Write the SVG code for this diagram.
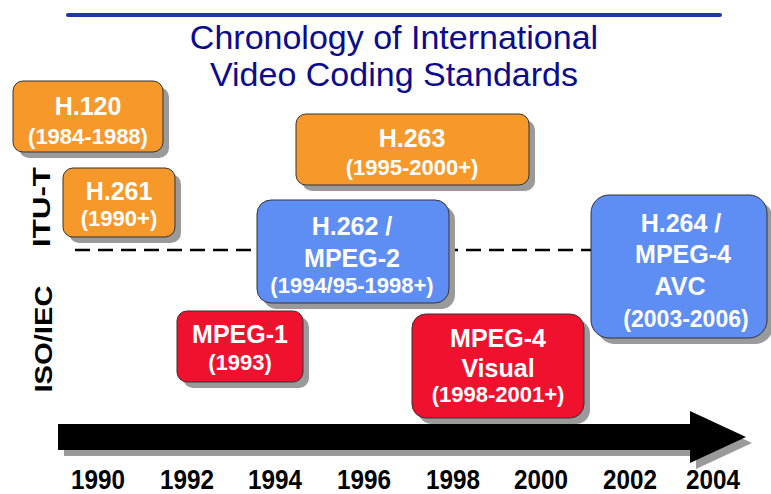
<svg xmlns="http://www.w3.org/2000/svg" width="771" height="494" viewBox="0 0 771 494">
<defs>
<style>
.sh{fill:#9a9a9a}
.box{stroke:#333;stroke-width:1}
.or{fill:#F7982B}
.bl{fill:#5E8EF4}
.rd{fill:#F0112F}
.t{font-family:"Liberation Sans",Arial,sans-serif;font-weight:bold;fill:#fff;text-anchor:middle}
.m{font-size:25px}
.y{font-size:22px}
.lab{font-family:"Liberation Sans",Arial,sans-serif;font-weight:bold;fill:#000;text-anchor:middle}
.yr{font-size:27px}
.title{font-family:"Liberation Sans",Arial,sans-serif;font-size:34px;fill:#0B0B8C;text-anchor:middle}
</style>
</defs>
<rect width="771" height="494" fill="#fff"/>
<line x1="68" y1="15" x2="720" y2="15" stroke="#1E3A9A" stroke-width="4" stroke-linecap="round"/>
<text class="title" x="394" y="49">Chronology of International</text>
<text class="title" x="394" y="86">Video Coding Standards</text>

<g id="labels">
<text class="lab" font-size="24" transform="translate(50,207) rotate(-90)" textLength="80" lengthAdjust="spacingAndGlyphs">ITU-T</text>
<text class="lab" font-size="24" transform="translate(52,339) rotate(-90)" textLength="107" lengthAdjust="spacingAndGlyphs">ISO/IEC</text>
</g>

<g id="connectors">
<line x1="75" y1="250" x2="592" y2="250" stroke="#000" stroke-width="2.5" stroke-dasharray="15 8"/>
</g>

<g id="h120">
<rect class="sh" x="19" y="87" width="150" height="71" rx="10"/>
<rect class="box or" x="13" y="81" width="150" height="71" rx="10"/>
<text class="t m" x="88" y="115">H.120</text>
<text class="t y" x="88" y="144">(1984-1988)</text>
</g>
<g id="h261">
<rect class="sh" x="69" y="174" width="112" height="69" rx="10"/>
<rect class="box or" x="63" y="168" width="112" height="69" rx="10"/>
<text class="t m" x="119" y="200">H.261</text>
<text class="t y" x="119" y="226">(1990+)</text>
</g>
<g id="h263">
<rect class="sh" x="302" y="120" width="233" height="71" rx="10"/>
<rect class="box or" x="296" y="114" width="233" height="71" rx="10"/>
<text class="t m" x="412" y="147">H.263</text>
<text class="t y" x="412" y="175">(1995-2000+)</text>
</g>
<g id="h262">
<rect class="sh" x="263" y="206" width="192" height="103" rx="14"/>
<rect class="box bl" x="257" y="200" width="192" height="103" rx="14"/>
<text class="t m" x="352" y="235">H.262 /</text>
<text class="t m" x="352" y="267">MPEG-2</text>
<text class="t y" x="352" y="293">(1994/95-1998+)</text>
</g>
<g id="h264">
<rect class="sh" x="597" y="201" width="176" height="143" rx="18"/>
<rect class="box bl" x="591" y="195" width="176" height="143" rx="18"/>
<text class="t m" x="681" y="232">H.264 /</text>
<text class="t m" x="683" y="263">MPEG-4</text>
<text class="t m" x="680" y="295">AVC</text>
<text class="t" font-size="23" x="686" y="327">(2003-2006)</text>
</g>
<g id="mpeg1">
<rect class="sh" x="183" y="317" width="126" height="71" rx="10"/>
<rect class="box rd" x="177" y="311" width="126" height="71" rx="10"/>
<text class="t m" x="240" y="343">MPEG-1</text>
<text class="t y" x="240" y="370">(1993)</text>
</g>
<g id="mpeg4">
<rect class="sh" x="418" y="320" width="172" height="104" rx="14"/>
<rect class="box rd" x="412" y="314" width="172" height="104" rx="14"/>
<text class="t m" x="498" y="347">MPEG-4</text>
<text class="t m" x="498" y="377">Visual</text>
<text class="t y" x="498" y="402">(1998-2001+)</text>
</g>

<g id="timeline">
<polygon fill="#9a9a9a" points="64,430 696,430 696,417 752,443 696,469 696,456 64,456"/>
<polygon fill="#000" points="58,424 690,424 690,411 746,437 690,463 690,450 58,450"/>
<text class="lab yr" x="98" y="489" textLength="54" lengthAdjust="spacingAndGlyphs">1990</text>
<text class="lab yr" x="187" y="489" textLength="54" lengthAdjust="spacingAndGlyphs">1992</text>
<text class="lab yr" x="275" y="489" textLength="54" lengthAdjust="spacingAndGlyphs">1994</text>
<text class="lab yr" x="364" y="489" textLength="54" lengthAdjust="spacingAndGlyphs">1996</text>
<text class="lab yr" x="453" y="489" textLength="54" lengthAdjust="spacingAndGlyphs">1998</text>
<text class="lab yr" x="541" y="489" textLength="54" lengthAdjust="spacingAndGlyphs">2000</text>
<text class="lab yr" x="630" y="489" textLength="54" lengthAdjust="spacingAndGlyphs">2002</text>
<text class="lab yr" x="713" y="489" textLength="54" lengthAdjust="spacingAndGlyphs">2004</text>
</g>
</svg>
